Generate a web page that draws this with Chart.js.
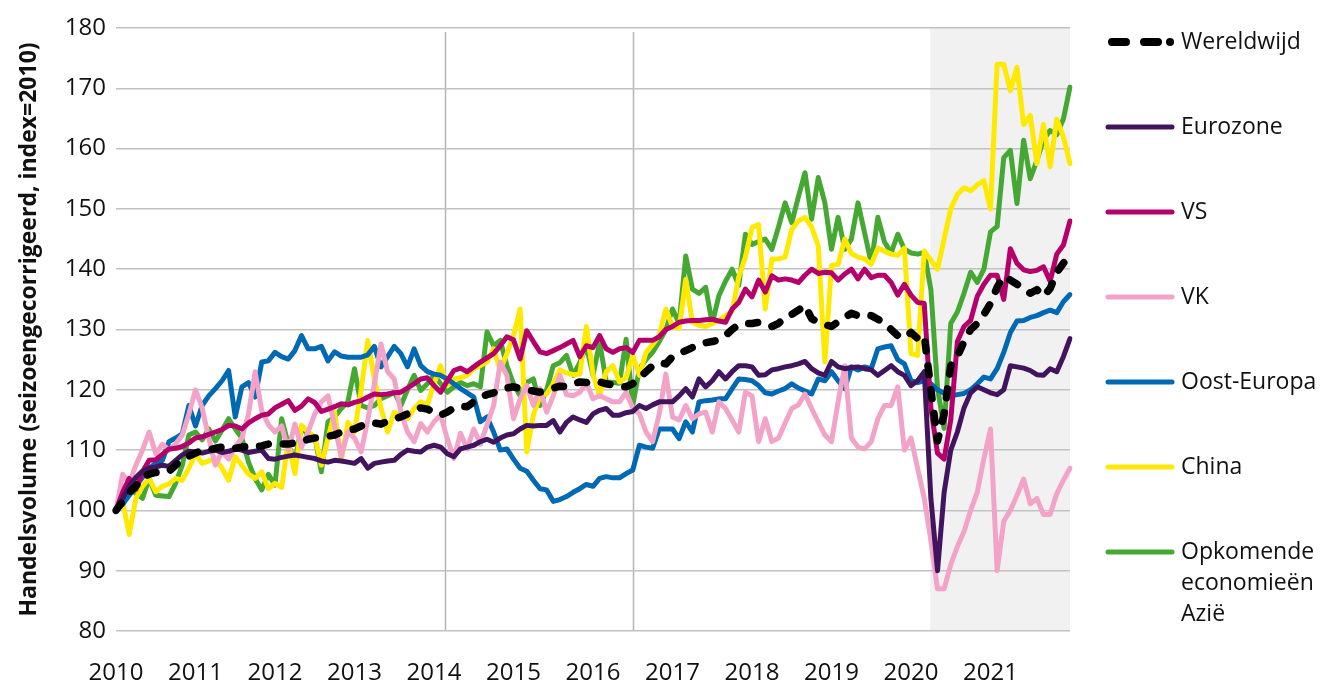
<!DOCTYPE html>
<html>
<head>
<meta charset="utf-8">
<script src="https://cdn.jsdelivr.net/npm/chart.js@4.4.1/dist/chart.umd.min.js"></script>
<style>
  html, body { margin: 0; padding: 0; background: #fff; }
  canvas { display: block; }
</style>
</head>
<body>
<canvas id="handel" width="1323" height="686"></canvas>
<script>
// maandcijfers jan 2010 t/m jan 2022
const years = [2010, 2011, 2012, 2013, 2014, 2015, 2016, 2017, 2018, 2019, 2020, 2021];

const wereldwijd = [
  100, 101.5, 103, 104, 105.5, 106, 106.3, 106.3, 106.5, 107.5, 108.5, 109,
  109.5, 110, 110, 110.3, 110.5, 110.5, 110.3, 110.5, 110.6, 110.5, 110.7, 111,
  111, 111, 111, 111.2, 111.3, 111.8, 112, 112.2, 112.3, 112.5, 113, 113.3,
  113.5, 114, 114.5, 114.5, 114.3, 114.8, 115.2, 115.5, 116, 116.5, 117, 116.8,
  116.2, 115.8, 116.3, 117, 117.3, 117.2, 118, 118.8, 119.2, 119.5, 120, 120.3,
  120.5, 120.2, 120, 119.8, 119.6, 119.9, 120.3, 120.6, 120.5, 121, 121.3, 121.2,
  121.5, 121.3, 121, 120.8, 120.6, 120.5, 121, 122, 123, 124, 124.5, 124.3,
  125.5, 126, 126.5, 127, 127.5, 127.8, 128, 128.3, 129, 130, 130.8, 131,
  131, 131.2, 130.8, 130.5, 131, 132, 132.5, 133.2, 134, 131.8, 131.2, 130.8,
  130.5, 131.3, 132, 132.7, 132.3, 132.5, 132.3, 131.7, 131, 130, 129, 128.6,
  129.5, 128.5, 129, 120, 111.5, 116, 124, 125.5, 128, 130, 131, 132.5,
  134.3, 137, 138.8, 138.2, 137.5, 136.8, 136, 136.6, 135.5, 136.8, 139.5, 141,
  142
];
const eurozone = [
  100, 102, 104, 105.5, 106.5, 107, 107.2, 107.5, 107.3, 108.3, 109.2, 109.8,
  109.7, 109.5, 109.8, 110, 109.6, 109.8, 110.2, 110, 109.6, 109.8, 110, 108.6,
  108.5, 108.8, 109, 109.2, 109, 108.8, 108.6, 108.2, 108, 108.3, 108.2, 108,
  107.8, 108.6, 107, 107.8, 108, 108.2, 108.3, 109.3, 110, 109.8, 109.7, 110.5,
  110.8, 110.5, 109.4, 108.9, 110.2, 110.5, 110.8, 111.4, 111.8, 111.3, 112, 112.5,
  112.7, 113.5, 114.1, 114, 114.1, 114.1, 114.9, 113, 114.6, 115.5, 115, 114.6,
  116, 116.6, 116.9, 115.8, 115.8, 116.2, 116.4, 117.4, 116.9, 117.5, 118, 118,
  118, 119, 120.2, 118.8, 121.8, 120.5, 121.5, 123, 121.8, 123, 124, 124,
  123.8, 122.4, 122.5, 123.3, 123.5, 123.8, 124, 124.3, 124.7, 123.5, 122.8, 122.4,
  124.7, 123.8, 123.5, 123.7, 123.8, 123.5, 123.3, 122.4, 123.2, 124, 123, 122.4,
  120.7, 121.5, 123, 102, 90, 103, 110, 113, 117, 119.5, 120.5, 120,
  119.5, 119.2, 120, 124, 123.8, 123.6, 123.2, 122.5, 122.4, 123.5, 123, 125.5,
  128.5
];
const vs = [
  100, 103, 105.3, 103.5, 106.4, 108.3, 108.4, 109.3, 110.2, 110.3, 110.6, 111.2,
  112, 112.2, 112.6, 113, 113.4, 114.1, 114, 113.5, 114.5, 115.2, 115.8, 116,
  117, 117.6, 118.2, 116.6, 117.3, 118.5, 117.9, 116.4, 116.8, 117.2, 117.7, 117.5,
  117.9, 118.2, 118.8, 119.3, 119.2, 119.3, 119.5, 119.6, 120.3, 121, 121.8, 122,
  120.7, 119.6, 121.5, 123.2, 123.6, 123, 123.8, 124.6, 125.3, 126, 127.3, 128.8,
  128.3, 125.1, 129.8, 128, 126.3, 126, 126.5, 127, 127.6, 128.2, 125.5, 127.3,
  127, 129, 126.8, 126.2, 126.8, 127, 126.2, 128.2, 128.2, 128.2, 128.8, 130,
  130.5, 131.2, 131.4, 131.5, 131.5, 131.6, 131.7, 131.4, 131.2, 133.4, 134.5, 136.7,
  135.4, 138.2, 136.2, 138.9, 138.2, 138.4, 138.2, 137.8, 139, 140, 139.3, 139.5,
  139.4, 138.2, 139.2, 140, 138.4, 140, 138.6, 139, 139, 137.8, 135.7, 137.5,
  135.7, 134.5, 134.3, 117, 109.5, 108.5, 115, 128, 130.5, 131.5, 135.5, 137.5,
  139, 139, 135, 143.4, 141, 139.9, 139.6, 139.8, 140.4, 138, 142.5, 144,
  148
];
const vk = [
  100, 106, 104.5, 107.5, 110, 113, 109.4, 111, 110, 111, 112.5, 116,
  120, 117, 112, 107.5, 109.7, 108.5, 110.5, 112, 116, 123, 116.5, 114.2,
  113, 114, 110, 114.3, 110.5, 113, 116, 118, 119, 114, 109, 113,
  112, 109.7, 115, 121, 127.6, 123, 121.8, 116.3, 113, 111.4, 114.4, 113,
  114.7, 115.8, 111.9, 108.6, 112.8, 110.2, 113.5, 111, 114.2, 117.4, 124.6, 122.4,
  115.2, 118.5, 120.7, 117.4, 120.2, 116.3, 119, 122.4, 119.2, 119, 119.6, 121.2,
  118.5, 119, 118.5, 118, 118, 119.6, 117, 116, 113, 111.4, 116, 122.6,
  115.5, 115, 117.4, 115.2, 116, 116.3, 113, 118, 116.9, 115, 113, 119.6,
  119, 111.4, 115.2, 111.4, 112, 114.5, 116.9, 117.5, 119.3, 116.9, 114.7, 112.5,
  111.4, 118, 124, 112, 110.5, 110.2, 111.4, 115.2, 117.4, 117.4, 120.5, 110,
  112, 107, 102, 95, 87, 87, 91, 94, 96.5, 100, 103, 108.6,
  113.5, 90, 98.2, 100, 102.5, 105.2, 101.1, 102, 99.3, 99.3, 102.8, 105,
  107
];
const oostEuropa = [
  100, 101, 102.5, 104, 105.5, 107, 107.8, 108.3, 111.4, 112, 112.7, 117.4,
  114, 117.4, 119, 120.2, 121.5, 123.2, 115.5, 120.5, 121.2, 118.8, 124.6, 124.8,
  126.2, 125.5, 125.1, 126.5, 129, 126.8, 126.8, 127.2, 124.8, 126.3, 125.6, 125.4,
  125.4, 125.4, 125.8, 127.2, 123.8, 125.5, 127.2, 126, 123.8, 126.8, 124, 123,
  122.6, 122.4, 121.8, 121, 120.2, 119.5, 118.8, 114.7, 115.5, 113, 110, 110.2,
  108.5, 107, 106.5, 105, 103.6, 103.4, 101.5, 101.8, 102.3, 103, 103.6, 104.3,
  104, 105.3, 105.6, 105.4, 105.4, 106.1, 106.7, 110.8, 110.5, 110.3, 113.5, 113.5,
  113.5, 111.9, 114.7, 113, 118, 118.2, 118.3, 118.5, 118.5, 120.2, 121.8, 121.7,
  121.5, 120.7, 119.5, 119.3, 119.8, 120.2, 121, 120.3, 119.8, 119.3, 121.8, 121.5,
  123, 121.5, 120.2, 123.8, 123.3, 123.8, 123.5, 126.8, 127.1, 127.3, 125, 124.3,
  121.5, 121.2, 121.5, 121, 120, 119.4, 119, 119.2, 119.4, 120, 121, 122.1,
  121.8, 123.5, 126.2, 129.5, 131.4, 131.5, 132, 132.3, 132.8, 133.2, 132.8, 134.6,
  135.8
];
const china = [
  100, 101.5, 96, 102, 104, 105.3, 103.1, 104, 104.4, 105.3, 105, 107,
  109.4, 107.8, 108.2, 108.6, 107, 105, 108.9, 107.5, 106, 105.3, 106.4, 103.6,
  104.5, 103.8, 111.4, 106.1, 114.1, 113, 112.2, 107.5, 112, 116.3, 108.3, 114.6,
  113, 120, 128.2, 121.8, 117, 113, 116.3, 115.5, 115.2, 116.9, 118, 117.5,
  121, 124, 120.7, 121.8, 122, 122.4, 123.5, 124, 124.6, 126.8, 123.3, 126,
  129, 133.4, 109.7, 115.8, 119, 119.3, 121, 123.3, 122.8, 122.5, 122.6, 130.5,
  122.6, 119, 123, 124, 121.3, 122, 125.7, 122.4, 126.2, 127.5, 129, 133.4,
  130.5, 130.2, 138.3, 131.2, 130.7, 130.5, 131, 131.5, 132.3, 133, 138.7, 142,
  146.9, 147.4, 133.4, 141.7, 141.7, 142, 146.6, 148, 148.6, 147, 143.9, 124.6,
  140.6, 140.8, 145, 142.6, 142, 141.7, 140.8, 143.5, 143, 142.5, 142.3, 143.5,
  126, 125.7, 143, 141.5, 140, 145, 150, 152.4, 153.5, 153, 154, 154.7,
  150, 174, 174, 169.6, 173.5, 164, 165.5, 157.5, 164, 157, 164.9, 162,
  157.5
];
const opkomendAzie = [
  100, 101.8, 103.6, 102.8, 102, 105.3, 102.5, 102.4, 102.3, 104.5, 107.5, 112.5,
  113, 111.7, 113.5, 111.5, 113.3, 115.2, 113.5, 112, 108, 105.3, 103.4, 106,
  104.2, 115.2, 111, 108.1, 113.8, 112.5, 112.2, 106.4, 114.7, 115.5, 116.9, 118,
  123.5, 117.4, 117, 117.4, 118.5, 119, 119.6, 117.4, 120, 122.4, 119.9, 121,
  122.4, 121, 119.6, 120.5, 121.2, 120.7, 121, 120.5, 129.6, 127.3, 128.2, 124,
  121, 119, 121.2, 121.8, 117.4, 120, 124, 124.5, 125.7, 122.4, 124.5, 127.3,
  122.4, 127.9, 121.3, 121.2, 121.1, 128.4, 117.4, 123.5, 125, 126.2, 128, 130,
  133.4, 131, 142.2, 136.7, 136, 137, 131, 135.6, 138, 140, 137.3, 145.8,
  144.1, 144.6, 145, 143.3, 147, 151, 147.7, 152, 156, 148.3, 155.2, 151,
  143.3, 148.6, 143.3, 145, 151, 146, 141, 148.6, 144.5, 142.7, 145.8, 143.3,
  142.7, 142.5, 142.8, 136.6, 120.3, 113.6, 131, 132.9, 136, 139.5, 137.8, 140,
  146.2, 147.1, 158.5, 159.7, 150.9, 161.4, 155, 158, 161.5, 163, 162.3, 164.9,
  170.2
];

// markeringen (maandindex) en grijze periode vanaf corona
const markers = [49.7, 78];
const shadeFrom = 122.9;

const labels = [];
years.forEach(y => { for (let m = 1; m <= 12; m++) labels.push(y + '-' + m); });
labels.push('2022-1');

const font = "'Open Sans', 'Noto Sans', sans-serif";

const backdrop = {
  id: 'backdrop',
  beforeDraw(chart) {
    const {ctx, chartArea: a, scales: {x}} = chart;
    ctx.save();
    const sx = x.getPixelForValue(shadeFrom);
    ctx.fillStyle = '#f1f1f1';
    ctx.fillRect(sx, a.top, a.right - sx, a.bottom - a.top);
    ctx.strokeStyle = '#b4b4b4';
    ctx.lineWidth = 1.5;
    markers.forEach(m => {
      const px = Math.round(x.getPixelForValue(m)) + 0.5;
      ctx.beginPath();
      ctx.moveTo(px, a.top + 4);
      ctx.lineTo(px, a.bottom);
      ctx.stroke();
    });
    ctx.restore();
  }
};

const sideLegend = {
  id: 'sideLegend',
  afterDraw(chart) {
    const {ctx, chartArea: a} = chart;
    const x0 = a.right + 38, len = 64;
    ctx.save();
    ctx.font = '23px ' + font;
    ctx.textBaseline = 'middle';
    chart.data.datasets.forEach((ds, i) => {
      const y = a.top + 14 + i * 85;
      ctx.strokeStyle = ds.borderColor;
      ctx.fillStyle = ds.borderColor;
      ctx.lineCap = 'round';
      if (ds.borderDash) {
        ctx.lineWidth = 8;
        ctx.setLineDash([14, 18]);
        ctx.beginPath();
        ctx.moveTo(x0 + 4, y);
        ctx.lineTo(x0 + 50, y);
        ctx.stroke();
        ctx.setLineDash([]);
        ctx.beginPath();
        ctx.arc(x0 + 62, y, 4, 0, Math.PI * 2);
        ctx.fill();
      } else {
        ctx.lineWidth = 5;
        ctx.beginPath();
        ctx.moveTo(x0, y);
        ctx.lineTo(x0 + len, y);
        ctx.stroke();
      }
      ctx.fillStyle = '#111';
      const lines = ds.label.split('\n');
      lines.forEach((t, j) => ctx.fillText(t, x0 + 73, y + j * 31));
    });
    ctx.restore();
  }
};

const line = (label, data, color, extra) => Object.assign({
  label, data, borderColor: color, backgroundColor: color,
  borderWidth: 5, pointRadius: 0, tension: 0, fill: false,
  borderJoinStyle: 'round', borderCapStyle: 'round'
}, extra || {});

new Chart(document.getElementById('handel').getContext('2d'), {
  type: 'line',
  data: {
    labels,
    datasets: [
      line('Wereldwijd', wereldwijd, '#000000', { borderWidth: 7.5, borderDash: [9, 15] }),
      line('Eurozone', eurozone, '#42145f'),
      line('VS', vs, '#b5006b'),
      line('VK', vk, '#f3a3c8'),
      line('Oost-Europa', oostEuropa, '#0069b4'),
      line('China', china, '#ffe900'),
      line('Opkomende\neconomieën\nAzië', opkomendAzie, '#45a832')
    ]
  },
  options: {
    responsive: false,
    animation: false,
    events: [],
    layout: { padding: { top: 28, right: 253, left: 0, bottom: 0 } },
    plugins: { legend: { display: false }, tooltip: { enabled: false } },
    scales: {
      x: {
        type: 'category',
        offset: false,
        grid: { display: false, drawTicks: false },
        border: { display: false },
        ticks: {
          autoSkip: false, maxRotation: 0, padding: 28,
          color: '#111',
          font: { family: font, size: 24 },
          callback: (v, i) => (i % 12 === 0 && i < years.length * 12) ? String(years[i / 12]) : ''
        },
        afterFit: s => { s.height = 55; }
      },
      y: {
        min: 80, max: 180,
        grid: { color: '#c2c2c2', lineWidth: 1.5, drawTicks: false },
        border: { display: false },
        ticks: { stepSize: 10, padding: 10, color: '#111', font: { family: font, size: 24 } },
        title: {
          display: true,
          text: 'Handelsvolume (seizoengecorrigeerd, index=2010)',
          color: '#111',
          font: { family: font, size: 23, weight: 'bold' },
          padding: { top: 16, bottom: 0 }
        },
        afterFit: s => { s.width = 116; }
      }
    }
  },
  plugins: [backdrop, sideLegend]
});
</script>
</body>
</html>
